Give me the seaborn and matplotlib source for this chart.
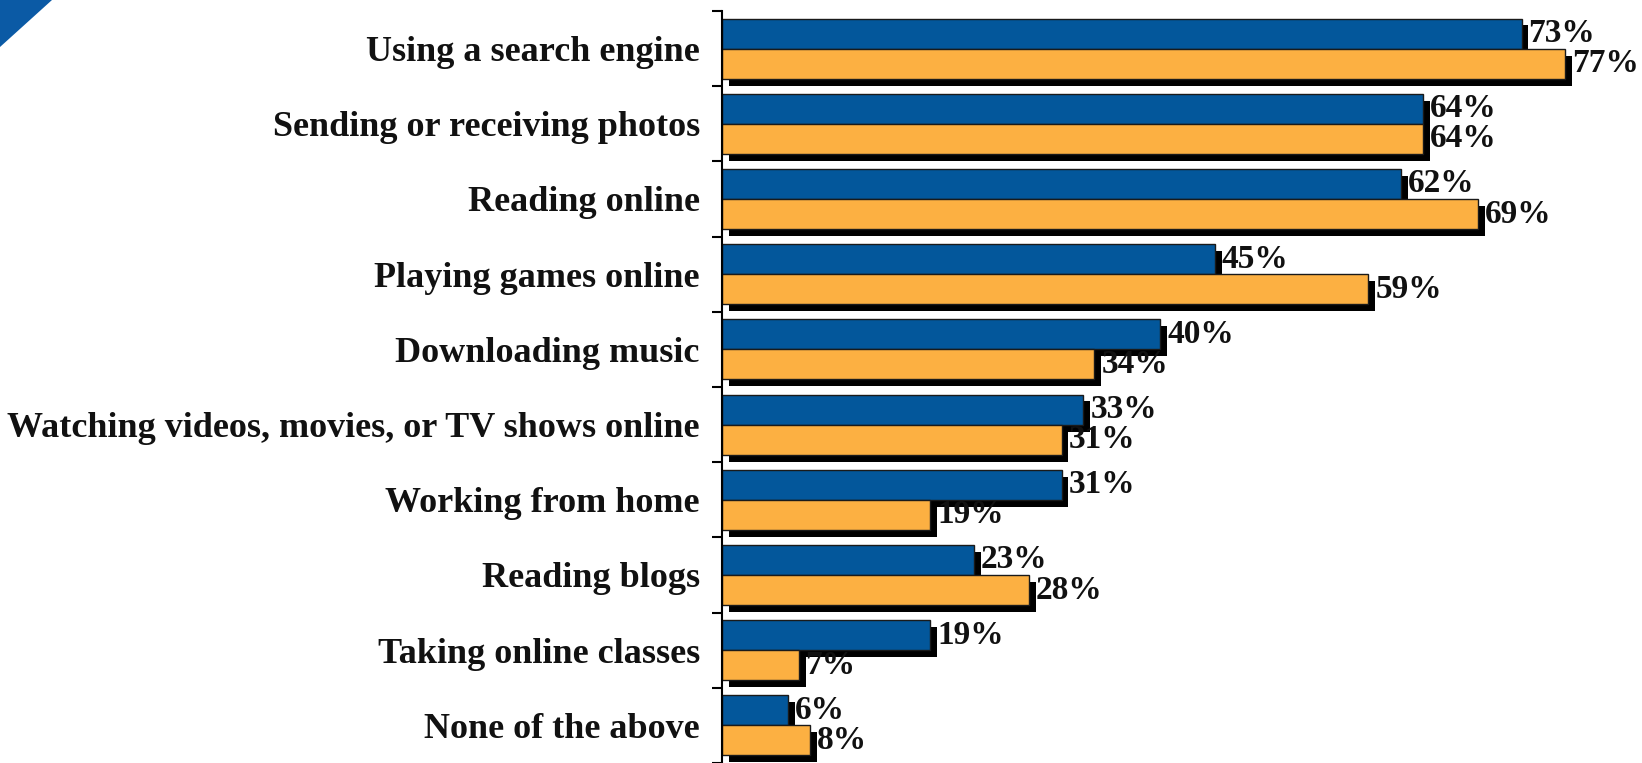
import matplotlib
matplotlib.use("Agg")
import matplotlib.pyplot as plt
import matplotlib.patheffects as pe
import numpy as np
import pandas as pd
import seaborn as sns

# Chart data
categories = [
    "Using a search engine",
    "Sending or receiving photos",
    "Reading online",
    "Playing games online",
    "Downloading music",
    "Watching videos, movies, or TV shows online",
    "Working from home",
    "Reading blogs",
    "Taking online classes",
    "None of the above",
]
group_1 = [73, 64, 62, 45, 40, 33, 31, 23, 19, 6]
group_2 = [77, 64, 69, 59, 34, 31, 19, 28, 7, 8]
group_names = ["Group 1", "Group 2"]

BLUE = "#03579b"
ORANGE = "#fcb042"

df = pd.DataFrame({
    "Activity": categories * 2,
    "Percent": group_1 + group_2,
    "Group": [group_names[0]] * len(categories) + [group_names[1]] * len(categories),
})

sns.set_style("white")
plt.rcParams["font.family"] = ["Liberation Serif", "DejaVu Serif"]
plt.rcParams["font.weight"] = "bold"

fig = plt.figure(figsize=(16.42, 7.63), dpi=100)
ax = fig.add_axes([722 / 1642, 0.0, 1 - 722 / 1642, 1 - 11 / 763])

sns.barplot(
    data=df, y="Activity", x="Percent", hue="Group",
    palette=[BLUE, ORANGE], order=categories, hue_order=group_names,
    width=0.8, saturation=1, edgecolor="#1a1a1a", linewidth=1.0,
    legend=False, ax=ax,
)

# drop shadow on every bar
shadow = [pe.SimplePatchShadow(offset=(5, -5), shadow_rgbFace="black", alpha=1.0), pe.Normal()]
for p in ax.patches:
    p.set_path_effects(shadow)

for cont in ax.containers:
    ax.bar_label(cont, fmt="%d%%", padding=5, fontsize=24, fontweight="bold", color="#111111")

ax.set_xlim(0, 84)
ax.set_ylim(len(categories) - 0.5, -0.5)
ax.set_xlabel("")
ax.set_ylabel("")
ax.set_xticks([])

ax.set_yticks(range(len(categories)))
ax.set_yticklabels(categories, fontsize=26, fontweight="bold", color="#111111")
ax.set_yticks(np.arange(-0.5, len(categories), 1.0), minor=True)
ax.tick_params(axis="y", which="both", left=True)
ax.tick_params(axis="y", which="major", length=0, pad=16)
ax.tick_params(axis="y", which="minor", length=7, width=1.5, color="black")

for s in ["top", "right", "bottom"]:
    ax.spines[s].set_visible(False)
ax.spines["left"].set_color("black")
ax.spines["left"].set_linewidth(1.5)

# corner decoration
fig.patches.append(plt.Polygon([[0, 1], [52 / 1642, 1], [0, 1 - 47 / 763]],
                               closed=True, transform=fig.transFigure,
                               facecolor="#0b5aa5", edgecolor="none"))

fig.savefig("out.png", dpi=100)
